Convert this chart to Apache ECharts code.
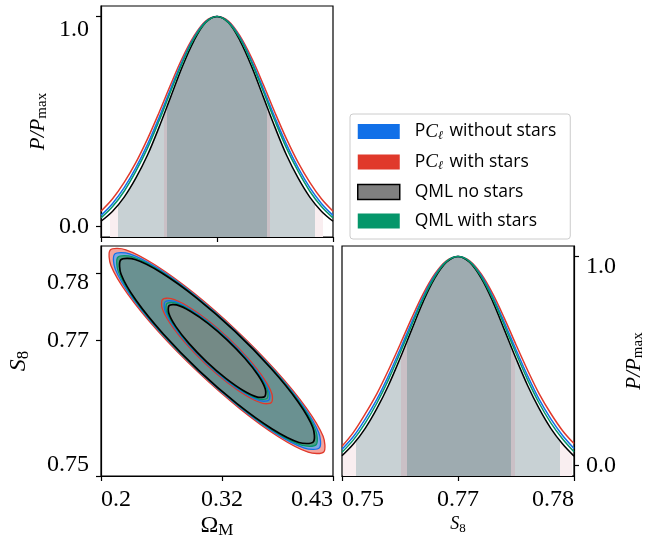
<!DOCTYPE html>
<html>
<head>
<meta charset="utf-8">
<script src="https://cdn.jsdelivr.net/npm/echarts@6/dist/echarts.min.js"></script>
<style>
  html, body { margin: 0; background: #fff; }
  #chart { width: 660px; height: 543px; }
</style>
</head>
<body>
<div id="chart"></div>
<script>
// sample points along each parameter
const omegaGrid = [0.2, 0.2115, 0.223, 0.2345, 0.246, 0.2575, 0.269, 0.2805, 0.292, 0.3035, 0.315,
  0.3265, 0.338, 0.3495, 0.361, 0.3725, 0.384, 0.3955, 0.407, 0.4185, 0.43];
const s8Grid = [0.75, 0.7517, 0.7534, 0.7551, 0.7568, 0.7585, 0.7602, 0.7619, 0.7636, 0.7653, 0.767,
  0.7687, 0.7704, 0.7721, 0.7738, 0.7755, 0.7772, 0.7789, 0.7806, 0.7823, 0.784];

// P/Pmax of Omega_M
const omegaRed = [0.073, 0.132, 0.210, 0.304, 0.416, 0.542, 0.675, 0.801, 0.905, 0.977, 1.0,
  0.977, 0.905, 0.801, 0.675, 0.542, 0.416, 0.304, 0.210, 0.132, 0.073];
const omegaBlue = [0.053, 0.110, 0.185, 0.279, 0.390, 0.518, 0.655, 0.787, 0.898, 0.973, 1.0,
  0.973, 0.898, 0.787, 0.655, 0.518, 0.390, 0.279, 0.185, 0.110, 0.053];
const omegaGreen = [0.041, 0.095, 0.168, 0.262, 0.372, 0.502, 0.642, 0.778, 0.893, 0.971, 1.0,
  0.971, 0.893, 0.778, 0.642, 0.502, 0.372, 0.262, 0.168, 0.095, 0.041];
const omegaBlack = [0.025, 0.073, 0.140, 0.230, 0.339, 0.472, 0.616, 0.760, 0.883, 0.970, 1.0,
  0.970, 0.883, 0.760, 0.616, 0.472, 0.339, 0.230, 0.140, 0.073, 0.025];

// P/Pmax of S8
const s8Red = [0.092, 0.160, 0.247, 0.343, 0.456, 0.578, 0.704, 0.821, 0.916, 0.979, 1.0,
  0.979, 0.916, 0.821, 0.704, 0.578, 0.456, 0.343, 0.249, 0.168, 0.105];
const s8Blue = [0.078, 0.140, 0.222, 0.316, 0.429, 0.554, 0.684, 0.807, 0.909, 0.976, 1.0,
  0.976, 0.909, 0.807, 0.684, 0.554, 0.429, 0.316, 0.223, 0.145, 0.082];
const s8Green = [0.064, 0.124, 0.203, 0.298, 0.410, 0.537, 0.670, 0.798, 0.903, 0.975, 1.0,
  0.975, 0.903, 0.798, 0.670, 0.537, 0.410, 0.298, 0.204, 0.128, 0.066];
const s8Black = [0.047, 0.104, 0.178, 0.272, 0.383, 0.512, 0.649, 0.784, 0.896, 0.972, 1.0,
  0.972, 0.896, 0.784, 0.649, 0.512, 0.383, 0.272, 0.178, 0.104, 0.045];

// credible interval band edges (outer faint, 95%, 68%)
const omegaBands = [0.2085, 0.2168, 0.2620, 0.2654, 0.3645, 0.3680, 0.4121, 0.4205];
const s8Bands = [0.7502, 0.7520, 0.7587, 0.7595, 0.7747, 0.7754, 0.7820, 0.7837];

// 2D contours [Omega_M, S8], 95% (outer) and 68% (inner)
const outerRed = [[0.4208, 0.75355], [0.4054, 0.75352], [0.3762, 0.75577], [0.3376, 0.75995], [0.2957, 0.76543],
  [0.2566, 0.77138], [0.2265, 0.77688], [0.2098, 0.78111], [0.2092, 0.78341], [0.2246, 0.78344], [0.2538, 0.78119],
  [0.2924, 0.77701], [0.3343, 0.77153], [0.3734, 0.76558], [0.4035, 0.76008], [0.4202, 0.75586]];
const outerBlue = [[0.4165, 0.75416], [0.4017, 0.75413], [0.3736, 0.75627], [0.3366, 0.76028], [0.2963, 0.76554],
  [0.2589, 0.77124], [0.2300, 0.77652], [0.2141, 0.78058], [0.2135, 0.78280], [0.2283, 0.78284], [0.2564, 0.78069],
  [0.2934, 0.77668], [0.3337, 0.77142], [0.3711, 0.76572], [0.4000, 0.76044], [0.4159, 0.75638]];
const outerGreen = [[0.4133, 0.75462], [0.3988, 0.75456], [0.3715, 0.75663], [0.3356, 0.76050], [0.2966, 0.76558],
  [0.2604, 0.77111], [0.2325, 0.77623], [0.2172, 0.78018], [0.2167, 0.78234], [0.2312, 0.78240], [0.2585, 0.78033],
  [0.2944, 0.77646], [0.3334, 0.77138], [0.3696, 0.76585], [0.3975, 0.76073], [0.4128, 0.75678]];
const outerBlack = [[0.4104, 0.75503], [0.3962, 0.75496], [0.3697, 0.75695], [0.3348, 0.76069], [0.2969, 0.76562],
  [0.2618, 0.77099], [0.2347, 0.77597], [0.2199, 0.77982], [0.2196, 0.78194], [0.2338, 0.78200], [0.2603, 0.78001],
  [0.2952, 0.77627], [0.3331, 0.77134], [0.3682, 0.76597], [0.3953, 0.76099], [0.4101, 0.75714]];
const innerRed = [[0.3690, 0.76086], [0.3604, 0.76074], [0.3449, 0.76179], [0.3248, 0.76386], [0.3033, 0.76663],
  [0.2835, 0.76969], [0.2685, 0.77256], [0.2606, 0.77481], [0.2610, 0.77610], [0.2696, 0.77622], [0.2851, 0.77517],
  [0.3052, 0.77310], [0.3267, 0.77033], [0.3465, 0.76727], [0.3615, 0.76440], [0.3694, 0.76215]];
const innerBlue = [[0.3665, 0.76122], [0.3583, 0.76111], [0.3436, 0.76212], [0.3245, 0.76409], [0.3040, 0.76674],
  [0.2851, 0.76965], [0.2708, 0.77238], [0.2632, 0.77452], [0.2635, 0.77574], [0.2717, 0.77585], [0.2864, 0.77484],
  [0.3055, 0.77287], [0.3260, 0.77022], [0.3449, 0.76731], [0.3592, 0.76458], [0.3668, 0.76244]];
const innerGreen = [[0.3647, 0.76147], [0.3568, 0.76137], [0.3426, 0.76234], [0.3242, 0.76425], [0.3044, 0.76681],
  [0.2862, 0.76961], [0.2724, 0.77225], [0.2650, 0.77431], [0.2653, 0.77549], [0.2732, 0.77560], [0.2874, 0.77462],
  [0.3058, 0.77271], [0.3256, 0.77015], [0.3438, 0.76735], [0.3576, 0.76471], [0.3650, 0.76265]];
const innerBlack = [[0.3625, 0.76178], [0.3550, 0.76167], [0.3414, 0.76260], [0.3238, 0.76443], [0.3048, 0.76687],
  [0.2874, 0.76956], [0.2742, 0.77208], [0.2672, 0.77406], [0.2675, 0.77518], [0.2750, 0.77529], [0.2886, 0.77436],
  [0.3063, 0.77253], [0.3252, 0.77009], [0.3426, 0.76740], [0.3558, 0.76488], [0.3628, 0.76290]];

// ticks and labels
const omegaTicks = [0.2, 0.32, 0.43];
const omegaTopTicks = [0.2, 0.315, 0.43];
const omegaLabels = ['0.2', '0.32', '0.43'];
const s8Ticks = [0.75, 0.77, 0.78];
const s8SideTicks = [0.75, 0.767, 0.784];
const s8Labels = ['0.75', '0.77', '0.78'];
const probTicks = [0, 1];
const probLabels = ['0.0', '1.0'];

const C = { blue: '#1170e8', red: '#e0392b', green: '#05966a', black: '#000' };
const legendText = {
  pcl0: '{r|P}{i|C}{sub|ℓ} without stars',
  pcl1: '{r|P}{i|C}{sub|ℓ} with stars',
  qml0: 'QML no stars',
  qml1: 'QML with stars'
};

const serif = 'Liberation Serif';
const sans = 'Open Sans';
const tickFont = { fontFamily: serif, fontSize: 24, color: '#000' };
const rt = extra => Object.assign({}, tickFont, extra);
const pairs = (xs, ys) => xs.map((x, i) => [x, ys[i]]);

function labeller(ticks, labels, styles) {
  return v => {
    const i = ticks.findIndex(t => Math.abs(t - v) < 1e-9);
    return i < 0 ? '' : '{' + styles[i] + '|' + labels[i] + '}';
  };
}

function pieces(edges) {
  const cols = ['#f9eef0', '#c8d1d4', '#cac0c6', '#9eabb0', '#cac0c6', '#c8d1d4', '#f9eef0'];
  return cols.map((c, i) => ({ gte: edges[i], lt: edges[i + 1], color: c }));
}

function axisBase(grid) {
  return {
    type: 'value', gridIndex: grid,
    axisLine: { show: true, onZero: false, lineStyle: { color: '#000', width: 1.2 } },
    splitLine: { show: false },
    axisTick: { show: true, inside: false, length: 5, lineStyle: { color: '#000', width: 1.2 } }
  };
}

function line(name, xs, ys, color, idx) {
  return {
    type: 'line', name, xAxisIndex: idx, yAxisIndex: idx, data: pairs(xs, ys),
    smooth: 0.35, showSymbol: false, symbol: 'none', silent: true,
    lineStyle: { color, width: 1.5 }, itemStyle: { color }
  };
}

function shade(xs, ys, idx) {
  return {
    type: 'line', xAxisIndex: idx, yAxisIndex: idx, data: pairs(xs, ys),
    smooth: 0.35, showSymbol: false, symbol: 'none', silent: true,
    lineStyle: { width: 0, opacity: 0 },
    areaStyle: { origin: 'start', opacity: 1 }
  };
}

function contour(name, pts, fill, stroke, width) {
  return {
    type: 'custom', name, xAxisIndex: 1, yAxisIndex: 1, silent: true,
    data: [[0.315, 0.768]],
    itemStyle: { color: stroke },
    renderItem: (params, api) => ({
      type: 'polygon',
      shape: { points: pts.map(p => api.coord(p)), smooth: 0.3 },
      style: { fill, stroke, lineWidth: width }
    })
  };
}

const series = [
  shade(omegaGrid, omegaBlack, 0),
  line('pcl1', omegaGrid, omegaRed, C.red, 0),
  line('pcl0', omegaGrid, omegaBlue, C.blue, 0),
  line('qml0', omegaGrid, omegaBlack, C.black, 0),
  line('qml1', omegaGrid, omegaGreen, C.green, 0),
  shade(s8Grid, s8Black, 2),
  line('pcl1', s8Grid, s8Red, C.red, 2),
  line('pcl0', s8Grid, s8Blue, C.blue, 2),
  line('qml0', s8Grid, s8Black, C.black, 2),
  line('qml1', s8Grid, s8Green, C.green, 2),
  contour('pcl1', outerRed, '#f3a59e', C.red, 1.3),
  contour('pcl0', outerBlue, '#7fa6e4', C.blue, 1.3),
  contour('qml1', outerGreen, '#4f9a84', C.green, 1.3),
  contour('qml0', outerBlack, '#6a9191', C.black, 1.7),
  contour('pcl1', innerRed, '#6a9191', C.red, 1.3),
  contour('pcl0', innerBlue, '#6a9191', C.blue, 1.3),
  contour('qml1', innerGreen, '#6a9191', C.green, 1.3),
  contour('qml0', innerBlack, '#748a86', C.black, 1.7)
];

const probAxis = (grid, side, nameGap, topPad) => Object.assign(axisBase(grid), {
  min: -0.05, max: 1.05, position: side,
  axisTick: Object.assign(axisBase(grid).axisTick, { customValues: probTicks }),
  axisLabel: Object.assign({}, tickFont, {
    customValues: probTicks, margin: 12,
    formatter: labeller(probTicks, probLabels, ['c', 't']),
    rich: { c: rt({}), t: rt({ padding: [topPad, 0, 0, 0] }) }
  }),
  name: '{i|P/P}{s|max}', nameLocation: 'middle', nameGap, nameRotate: 90,
  nameTextStyle: {
    rich: {
      i: { fontFamily: serif, fontStyle: 'italic', fontSize: 21, color: '#000' },
      s: { fontFamily: serif, fontSize: 15, color: '#000', padding: [9, 0, 0, 0] }
    }
  }
});

const option = {
  animation: false,
  backgroundColor: '#fff',
  grid: [
    { left: 101, top: 6, width: 232, height: 231, show: true, borderColor: '#000', borderWidth: 1.2 },
    { left: 101, top: 246, width: 232, height: 230, show: true, borderColor: '#000', borderWidth: 1.2 },
    { left: 342, top: 246, width: 232, height: 230, show: true, borderColor: '#000', borderWidth: 1.2 }
  ],
  xAxis: [
    Object.assign(axisBase(0), {
      min: 0.2, max: 0.43,
      axisTick: Object.assign(axisBase(0).axisTick, { customValues: omegaTopTicks }),
      axisLabel: { show: false }
    }),
    Object.assign(axisBase(1), {
      min: 0.2, max: 0.43,
      axisTick: Object.assign(axisBase(1).axisTick, { customValues: omegaTicks }),
      axisLabel: Object.assign({}, tickFont, {
        customValues: omegaTicks, margin: 12,
        formatter: labeller(omegaTicks, omegaLabels, ['l', 'c', 'r']),
        rich: { l: rt({ padding: [0, 0, 0, 30] }), c: rt({}), r: rt({ padding: [0, 42, 0, 0] }) }
      }),
      name: '{o|Ω}{s|M}', nameLocation: 'middle', nameGap: 36,
      nameTextStyle: {
        rich: {
          o: { fontFamily: serif, fontSize: 24, color: '#000' },
          s: { fontFamily: serif, fontSize: 17, color: '#000', padding: [10, 0, 0, 0] }
        }
      }
    }),
    Object.assign(axisBase(2), {
      min: 0.75, max: 0.784,
      axisTick: Object.assign(axisBase(2).axisTick, { customValues: s8SideTicks }),
      axisLabel: Object.assign({}, tickFont, {
        customValues: s8SideTicks, margin: 12,
        formatter: labeller(s8SideTicks, s8Labels, ['l', 'c', 'r']),
        rich: { l: rt({ padding: [0, 0, 0, 42] }), c: rt({}), r: rt({ padding: [0, 42, 0, 0] }) }
      }),
      name: '{i|S}{s|8}', nameLocation: 'middle', nameGap: 38,
      nameTextStyle: {
        rich: {
          i: { fontFamily: serif, fontStyle: 'italic', fontSize: 18, color: '#000' },
          s: { fontFamily: serif, fontSize: 13, color: '#000', padding: [8, 0, 0, 0] }
        }
      }
    })
  ],
  yAxis: [
    probAxis(0, 'left', 51, 27),
    Object.assign(axisBase(1), {
      min: 0.75, max: 0.784,
      axisTick: Object.assign(axisBase(1).axisTick, { customValues: s8Ticks }),
      axisLabel: Object.assign({}, tickFont, {
        customValues: s8Ticks, margin: 12,
        formatter: labeller(s8Ticks, s8Labels, ['b', 'c', 't']),
        rich: { b: rt({ padding: [0, 0, 22, 0] }), c: rt({}), t: rt({ padding: [20, 0, 0, 0] }) }
      }),
      name: '{i|S}{s|8}', nameLocation: 'middle', nameGap: 69, nameRotate: 90,
      nameTextStyle: {
        rich: {
          i: { fontFamily: serif, fontStyle: 'italic', fontSize: 24, color: '#000' },
          s: { fontFamily: serif, fontSize: 17, color: '#000', padding: [10, 0, 0, 0] }
        }
      }
    }),
    probAxis(2, 'right', 48, 20)
  ],
  visualMap: [
    { show: false, type: 'piecewise', seriesIndex: 0, dimension: 0, pieces: pieces(omegaBands),
      outOfRange: { color: 'rgba(255,255,255,0)' } },
    { show: false, type: 'piecewise', seriesIndex: 5, dimension: 0, pieces: pieces(s8Bands),
      outOfRange: { color: 'rgba(255,255,255,0)' } }
  ],
  legend: {
    orient: 'vertical', left: 350, top: 114, selectedMode: false,
    icon: 'rect', itemWidth: 42, itemHeight: 15, itemGap: 11,
    padding: [8, 14, 9, 7],
    borderColor: '#cccccc', borderWidth: 1, borderRadius: 3, backgroundColor: '#fff',
    data: [
      { name: 'pcl0', itemStyle: { color: C.blue, borderWidth: 0 } },
      { name: 'pcl1', itemStyle: { color: C.red, borderWidth: 0 } },
      { name: 'qml0', itemStyle: { color: '#808080', borderColor: '#000', borderWidth: 1.5 } },
      { name: 'qml1', itemStyle: { color: C.green, borderWidth: 0 } }
    ],
    formatter: n => legendText[n],
    textStyle: {
      fontFamily: sans, fontSize: 17.5, color: '#000', padding: [0, 0, 0, 10],
      rich: {
        r: { fontFamily: sans, fontSize: 17.5, color: '#000' },
        i: { fontFamily: serif, fontStyle: 'italic', fontSize: 19, color: '#000' },
        sub: { fontFamily: serif, fontStyle: 'italic', fontSize: 12, color: '#000', padding: [8, 2, 0, 0] }
      }
    }
  },
  series
};

const chart = echarts.init(document.getElementById('chart'));
chart.setOption(option);
</script>
</body>
</html>
